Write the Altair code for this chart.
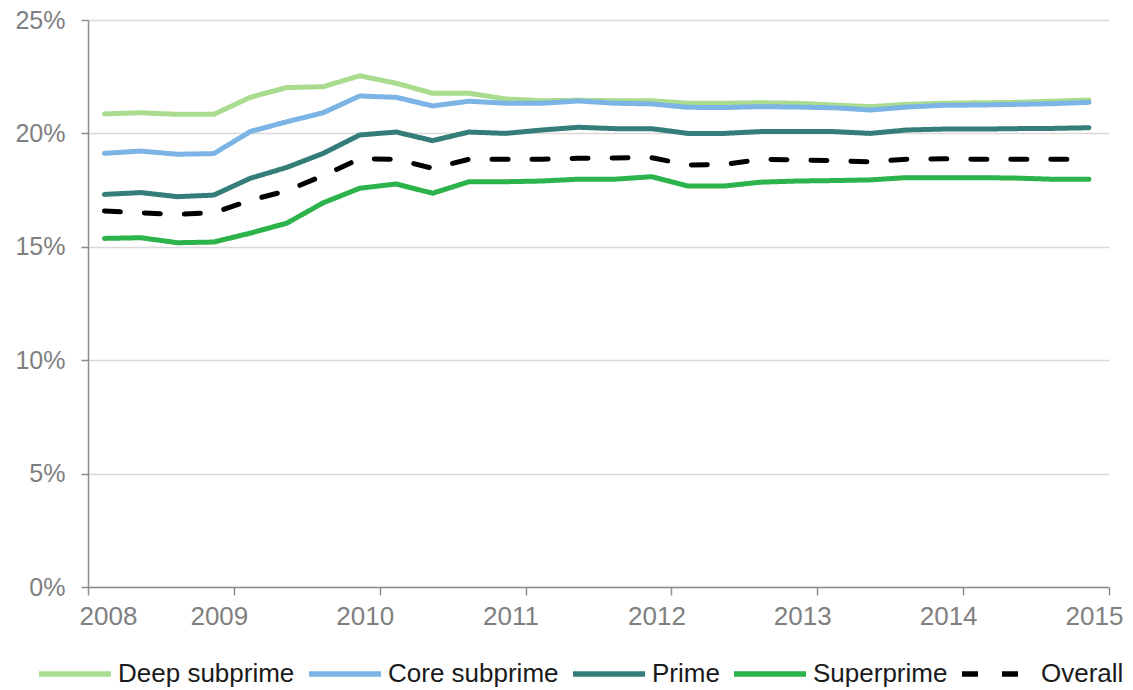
import altair as alt
import pandas as pd

# Quarterly observations, 2008 Q1 - 2014 Q4 (plotted mid-quarter)
years = list(range(2008, 2015))
periods = [y + (q + 0.45) / 4 for y in years for q in range(4)]

series_names = ["Deep subprime", "Core subprime", "Prime", "Superprime", "Overall"]
series_colors = ["#a9dc8e", "#7cb5e5", "#357d79", "#2db34b", "#000000"]

deep_subprime = [20.86, 20.91, 20.84, 20.84, 21.59, 22.02, 22.06, 22.54,
                 22.21, 21.77, 21.77, 21.52, 21.44, 21.46, 21.44, 21.44,
                 21.33, 21.33, 21.35, 21.33, 21.25, 21.18, 21.28, 21.33,
                 21.35, 21.37, 21.42, 21.47]
core_subprime = [19.12, 19.22, 19.08, 19.11, 20.08, 20.51, 20.91, 21.65,
                 21.59, 21.21, 21.42, 21.33, 21.33, 21.43, 21.33, 21.30,
                 21.15, 21.14, 21.18, 21.16, 21.13, 21.03, 21.16, 21.24,
                 21.25, 21.28, 21.31, 21.37]
prime = [17.31, 17.39, 17.21, 17.28, 18.02, 18.50, 19.12, 19.93,
         20.06, 19.68, 20.06, 20.00, 20.15, 20.27, 20.21, 20.21,
         20.00, 20.00, 20.08, 20.08, 20.08, 20.00, 20.15, 20.19,
         20.19, 20.21, 20.22, 20.25]
superprime = [15.37, 15.40, 15.18, 15.21, 15.60, 16.04, 16.94, 17.58,
              17.77, 17.36, 17.87, 17.87, 17.90, 17.98, 17.98, 18.09,
              17.68, 17.68, 17.85, 17.90, 17.92, 17.95, 18.05, 18.05,
              18.05, 18.03, 17.98, 17.98]
overall = [16.58, 16.50, 16.43, 16.50, 17.05, 17.47, 18.14, 18.88,
           18.86, 18.46, 18.86, 18.86, 18.86, 18.90, 18.92, 18.93,
           18.61, 18.63, 18.86, 18.83, 18.80, 18.75, 18.86, 18.88,
           18.86, 18.86, 18.86, 18.86]

x_ticks = list(range(2008, 2016))
y_ticks = [0, 0.05, 0.10, 0.15, 0.20, 0.25]

rows = []
for name, vals in zip(series_names,
                      [deep_subprime, core_subprime, prime, superprime, overall]):
    for i, (p, v) in enumerate(zip(periods, vals)):
        rows.append({"period": p, "value": v / 100, "series": name, "idx": i})
df = pd.DataFrame(rows)

axis_grey = "#8c8c8c"
label_grey = "#7f7f7f"

legend = alt.Legend(
    title=None,
    orient="none",
    direction="horizontal",
    legendX=-52,
    legendY=615,
    symbolType="stroke",
    symbolSize=5184,
    symbolStrokeWidth=5.5,
    labelFontSize=26,
    labelFont="Liberation Sans",
    labelColor="#1a1a1a",
    labelLimit=400,
    labelOffset=4,
    columnPadding=3,
)

chart = alt.Chart(df).mark_line(
    strokeWidth=5, strokeCap="round", strokeJoin="round"
).encode(
    x=alt.X(
        "period:Q",
        scale=alt.Scale(domain=[2008, 2015], nice=False, zero=False),
        axis=alt.Axis(
            values=x_ticks,
            format="d",
            title=None,
            grid=False,
            labelFlush=False,
            labelFontSize=26,
            labelOffset={"condition": {"test": "datum.value == 2008", "value": 20}, "value": -15},
            tickSize=8,
            labelPadding=8,
        ),
    ),
    y=alt.Y(
        "value:Q",
        scale=alt.Scale(domain=[0, 0.25], nice=False),
        axis=alt.Axis(
            values=y_ticks,
            format=".0%",
            title=None,
            grid=True,
            tickSize=7,
            labelPadding=16,
        ),
    ),
    color=alt.Color(
        "series:N",
        sort=series_names,
        scale=alt.Scale(domain=series_names, range=series_colors),
        legend=legend,
    ),
    strokeDash=alt.StrokeDash(
        "series:N",
        sort=series_names,
        scale=alt.Scale(domain=series_names,
                        range=[[1, 0], [1, 0], [1, 0], [1, 0], [16, 24]]),
        legend=legend,
    ),
    order="idx:Q",
).properties(
    width=1021,
    height=567,
    autosize=alt.AutoSizeParams(type="none"),
    padding={"left": 80, "top": 12, "right": 16, "bottom": 106},
).configure(
    font="Liberation Sans",
).configure_view(
    stroke=None,
).configure_axis(
    domainColor=axis_grey,
    domainWidth=1.5,
    tickColor=axis_grey,
    tickWidth=1.5,
    labelColor=label_grey,
    labelFontSize=25,
    labelFont="Liberation Sans",
    gridColor="#d9d9d9",
    gridWidth=1.5,
)

chart.save("out.html", embed_options={"renderer": "svg", "actions": False})
